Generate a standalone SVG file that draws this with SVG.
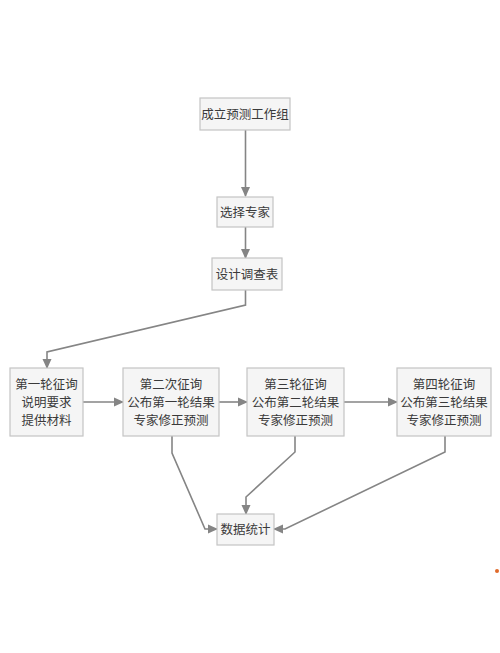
<svg xmlns="http://www.w3.org/2000/svg" width="500" height="653" viewBox="0 0 500 653">
<style>
.box{fill:#f5f5f5;stroke:#c4c4c4;stroke-width:1.2}
.t{font-family:"Noto Sans CJK SC","Noto Sans",sans-serif;font-size:12.5px;fill:#3a3a3a;text-anchor:middle}
.c{fill:none;stroke:#858585;stroke-width:1.6;marker-end:url(#ah)}
</style>
<defs>
<marker id="ah" markerWidth="10" markerHeight="10" refX="9" refY="5" orient="auto" markerUnits="userSpaceOnUse">
<path d="M0,0.5 L10,5 L0,9.5 Z" fill="#858585"/>
</marker>
</defs>
<rect width="500" height="653" fill="#ffffff"/>
<g id="connectors">
<path class="c" d="M245.5,130 V196"/>
<path class="c" d="M245.5,227 V258"/>
<path class="c" d="M245.5,290 V305 L47,352 V368"/>
<path class="c" d="M83,402 H123"/>
<path class="c" d="M219,402 H247"/>
<path class="c" d="M344,402 H397"/>
<path class="c" d="M172,436 V453 L205,529 H217"/>
<path class="c" d="M295,436 V452 L246,497 V514"/>
<path class="c" d="M445,436 V452 L285,529 H274"/>
</g>
<g id="n1"><rect class="box" x="200" y="98" width="90" height="32"/><text class="t" x="245" y="119">成立预测工作组</text></g>
<g id="n2"><rect class="box" x="217" y="197" width="56" height="30"/><text class="t" x="245" y="217">选择专家</text></g>
<g id="n3"><rect class="box" x="212" y="258" width="70" height="32"/><text class="t" x="247" y="279">设计调查表</text></g>
<g id="n4"><rect class="box" x="10" y="368" width="73" height="68"/>
<text class="t" x="46.5" y="389">第一轮征询</text><text class="t" x="46.5" y="407">说明要求</text><text class="t" x="46.5" y="425">提供材料</text></g>
<g id="n5"><rect class="box" x="123" y="368" width="96" height="68"/>
<text class="t" x="171" y="389">第二次征询</text><text class="t" x="171" y="407">公布第一轮结果</text><text class="t" x="171" y="425">专家修正预测</text></g>
<g id="n6"><rect class="box" x="247" y="368" width="97" height="68"/>
<text class="t" x="295.5" y="389">第三轮征询</text><text class="t" x="295.5" y="407">公布第二轮结果</text><text class="t" x="295.5" y="425">专家修正预测</text></g>
<g id="n7"><rect class="box" x="397" y="368" width="94" height="68"/>
<text class="t" x="444" y="389">第四轮征询</text><text class="t" x="444" y="407">公布第三轮结果</text><text class="t" x="444" y="425">专家修正预测</text></g>
<g id="n8"><rect class="box" x="217" y="514" width="57" height="31"/><text class="t" x="245.5" y="534">数据统计</text></g>
<circle cx="497" cy="571" r="2" fill="#e06a2a"/>
</svg>
